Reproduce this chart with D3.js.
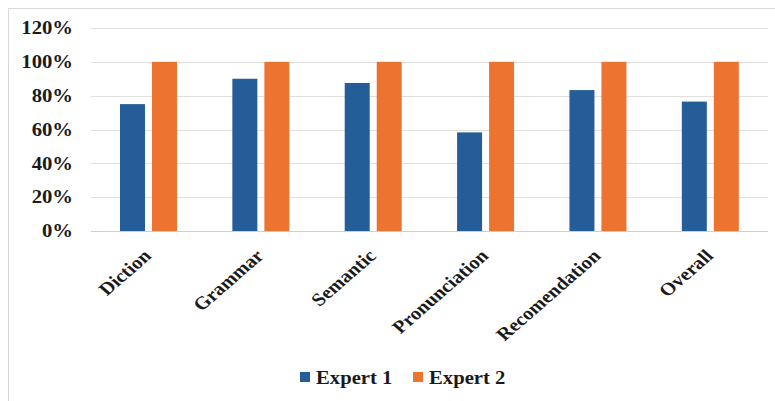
<!DOCTYPE html>
<html><head><meta charset="utf-8">
<script src="https://cdn.jsdelivr.net/npm/d3@7"></script>
<style>body{margin:0;background:#fff;} svg{display:block;}</style>
</head><body>
<svg id="c" width="775" height="401"></svg>
<script>
const categories = ["Diction","Grammar","Semantic","Pronunciation","Recomendation","Overall"];
const seriesNames = ["Expert 1","Expert 2"];
const expert1 = [0.75,0.90,0.875,0.583,0.833,0.765];
const expert2 = [1.00,1.00,1.00,1.00,1.00,1.00];
const yTicks = [0,0.2,0.4,0.6,0.8,1.0,1.2];
const colors = ["#245D97","#ED7331"];

const svg = d3.select("#c");
const font = "'Liberation Serif','Times New Roman',serif";
const sx = 1.15;

svg.append("rect").attr("x",8.5).attr("y",8.5).attr("width",800).attr("height",420)
  .attr("fill","#fff").attr("stroke","#d9d9d9");

const x0 = d3.scaleBand().domain(categories).range([92.3,766.5]);
const x1 = d3.scaleBand().domain(seriesNames)
  .range([x0.bandwidth()/2-28.5, x0.bandwidth()/2+28.5]).paddingInner(0.21875);
const y = d3.scaleLinear().domain([0,1.2]).range([231,28]);

// gridlines
svg.append("g").selectAll("line").data(yTicks).join("line")
  .attr("x1",91).attr("x2",768)
  .attr("y1",d=>Math.round(y(d))+0.5).attr("y2",d=>Math.round(y(d))+0.5)
  .attr("stroke",d=>d===0?"#cfcfcf":"#e0e0e0").attr("stroke-width",1);

// y labels
svg.append("g").selectAll("text").data(yTicks).join("text")
  .attr("transform",d=>`translate(73,${y(d)}) scale(${sx},1)`)
  .attr("dy","0.35em").attr("text-anchor","end")
  .attr("font-family",font).attr("font-weight","bold").attr("font-size",18)
  .attr("fill","#1a1a1a")
  .text(d=>d3.format(".0%")(d));

// bars
const data = categories.map((c,i)=>({c, vals:[expert1[i],expert2[i]]}));
const g = svg.append("g").selectAll("g").data(data).join("g")
  .attr("transform",d=>`translate(${x0(d.c)},0)`);
g.selectAll("rect").data(d=>d.vals.map((v,j)=>({s:seriesNames[j],v,j}))).join("rect")
  .attr("x",d=>x1(d.s)).attr("width",x1.bandwidth())
  .attr("y",d=>y(d.v)).attr("height",d=>y(0)-y(d.v))
  .attr("fill",d=>colors[d.j]);

// x labels
svg.append("g").selectAll("text").data(categories).join("text")
  .attr("transform",d=>`translate(${x0(d)+x0.bandwidth()/2+4},257) scale(${sx},1) rotate(-45)`)
  .attr("text-anchor","end")
  .attr("font-family",font).attr("font-weight","bold").attr("font-size",18)
  .attr("fill","#1a1a1a")
  .text(d=>d);

// legend
const legX = [300,413];
const lg = svg.append("g").selectAll("g").data(seriesNames).join("g")
  .attr("transform",(d,i)=>`translate(${legX[i]},0)`);
lg.append("rect").attr("x",0).attr("y",372).attr("width",10).attr("height",10)
  .attr("fill",(d,i)=>colors[i]);
lg.append("text").attr("transform",`translate(16,384) scale(${sx},1)`)
  .attr("font-family",font).attr("font-weight","bold").attr("font-size",18)
  .attr("fill","#1a1a1a").text(d=>d);
</script>
</body></html>
